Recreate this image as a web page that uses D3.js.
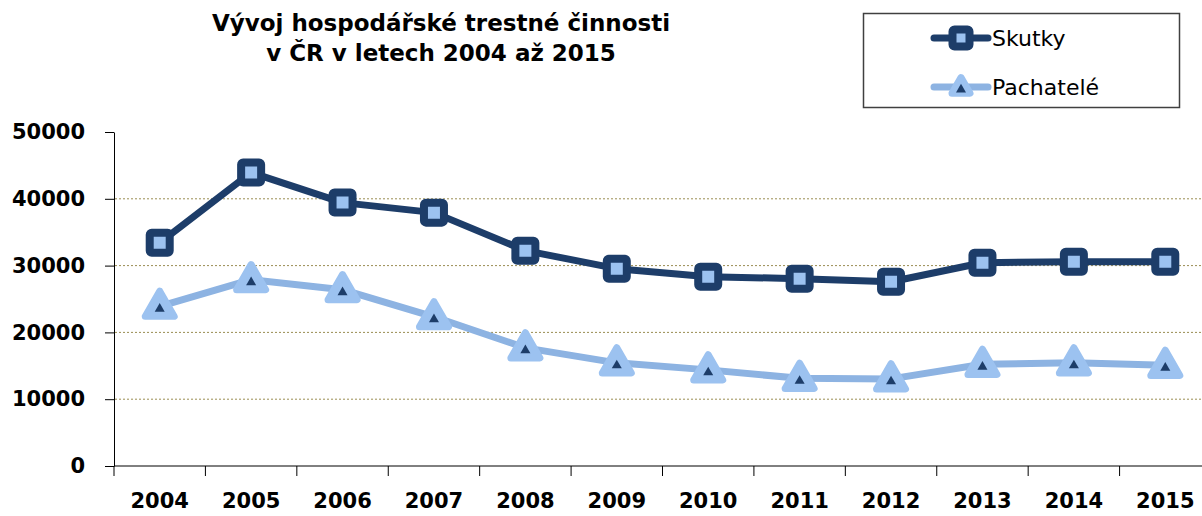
<!DOCTYPE html>
<html>
<head>
<meta charset="utf-8">
<script src="https://cdn.jsdelivr.net/npm/d3@7"></script>
<style>
  body { margin: 0; background: #fff; }
  text { font-family: "DejaVu Sans", sans-serif; }
</style>
</head>
<body>
<script>
// data
const years = ["2004", "2005", "2006", "2007", "2008", "2009", "2010", "2011", "2012", "2013", "2014", "2015"];
const skutky = [33430, 43930, 39430, 37930, 32240, 29540, 28340, 28040, 27590, 30430, 30580, 30580];
const pachatele = [23910, 27890, 26390, 22340, 17690, 15440, 14390, 13120, 13040, 15220, 15440, 15070];
const yTicks = [0, 10000, 20000, 30000, 40000, 50000];
const titleLines = ["Vývoj hospodářské trestné činnosti", "v ČR v letech 2004 až 2015"];
const seriesNames = ["Skutky", "Pachatelé"];

const width = 1202, height = 516;
const dark = "#1d3d69", light = "#8db3e2", markLight = "#9cc2f0";

const svg = d3.select("body").append("svg")
  .attr("width", width)
  .attr("height", height);

const x = d3.scaleBand().domain(years).range([114, 1211]);
const y = d3.scaleLinear().domain([0, 50000]).range([466, 132]);

// gridlines
svg.append("g")
  .selectAll("line")
  .data(yTicks.filter(d => d > 0 && d < 50000))
  .join("line")
  .attr("x1", 115).attr("x2", width)
  .attr("y1", d => y(d)).attr("y2", d => y(d))
  .attr("stroke", "#9a8d52")
  .attr("stroke-width", 1)
  .attr("stroke-dasharray", "2,2");

// y axis
const yAxis = svg.append("g")
  .attr("transform", "translate(114,0)")
  .call(d3.axisLeft(y).tickValues(yTicks).tickSize(9).tickSizeOuter(0).tickPadding(20).tickFormat(d3.format("d")));
yAxis.selectAll("text").attr("font-size", 21).attr("font-weight", "bold").attr("fill", "#000")
  .style("font-family", "DejaVu Sans");
yAxis.selectAll("line, path").attr("stroke", "#000");

// x axis: labels centred, ticks between categories
const xAxis = svg.append("g")
  .attr("transform", "translate(0,466)")
  .call(d3.axisBottom(x).tickSize(0).tickPadding(27));
xAxis.select(".domain").remove();
xAxis.selectAll("text").attr("font-size", 21).attr("font-weight", "bold").attr("fill", "#000")
  .style("font-family", "DejaVu Sans");
svg.append("line")
  .attr("x1", 114).attr("x2", width)
  .attr("y1", 466).attr("y2", 466)
  .attr("stroke", "#000");
svg.append("g")
  .selectAll("line")
  .data(years)
  .join("line")
  .attr("x1", d => x(d)).attr("x2", d => x(d))
  .attr("y1", 466).attr("y2", 476)
  .attr("stroke", "#000");

const line = d3.line()
  .x((d, i) => x(years[i]) + x.bandwidth() / 2)
  .y(d => y(d));

function triPath(cx, cy, s) {
  const h = s * 0.87;
  return "M" + cx + "," + (cy - h * 0.6) + "L" + (cx + s / 2) + "," + (cy + h * 0.4) + "L" + (cx - s / 2) + "," + (cy + h * 0.4) + "Z";
}

function drawSquare(g, cx, cy, size) {
  g.append("rect")
    .attr("x", cx - size / 2).attr("y", cy - size / 2)
    .attr("width", size).attr("height", size)
    .attr("rx", 2)
    .attr("fill", markLight)
    .attr("stroke", dark)
    .attr("stroke-width", 8)
    .attr("stroke-linejoin", "round");
}

function drawTriangle(g, cx, cy, s) {
  g.append("path")
    .attr("d", triPath(cx, cy, s))
    .attr("fill", markLight)
    .attr("stroke", markLight)
    .attr("stroke-width", 7)
    .attr("stroke-linejoin", "round");
  g.append("path")
    .attr("d", triPath(cx, cy + 2, 10))
    .attr("fill", dark);
}

// Pachatelé
svg.append("path")
  .datum(pachatele)
  .attr("d", line)
  .attr("fill", "none")
  .attr("stroke", light)
  .attr("stroke-width", 7)
  .attr("stroke-linejoin", "round");
const gTri = svg.append("g");
pachatele.forEach((v, i) => drawTriangle(gTri, x(years[i]) + x.bandwidth() / 2, y(v), 29));

// Skutky
svg.append("path")
  .datum(skutky)
  .attr("d", line)
  .attr("fill", "none")
  .attr("stroke", dark)
  .attr("stroke-width", 7)
  .attr("stroke-linejoin", "round");
const gSq = svg.append("g");
skutky.forEach((v, i) => drawSquare(gSq, x(years[i]) + x.bandwidth() / 2, y(v), 20));

// title
svg.append("g")
  .selectAll("text")
  .data(titleLines)
  .join("text")
  .attr("x", 441)
  .attr("y", (d, i) => 31 + i * 30)
  .attr("text-anchor", "middle")
  .attr("font-size", 23)
  .attr("font-weight", "bold")
  .text(d => d);

// legend
const leg = svg.append("g");
leg.append("rect")
  .attr("x", 863.5).attr("y", 13.5)
  .attr("width", 316).attr("height", 94)
  .attr("fill", "#fff")
  .attr("stroke", "#404040")
  .attr("stroke-width", 1.5);
leg.append("line")
  .attr("x1", 934).attr("x2", 988).attr("y1", 38).attr("y2", 38)
  .attr("stroke", dark).attr("stroke-width", 7).attr("stroke-linecap", "round");
drawSquare(leg, 961, 38, 17);
leg.append("line")
  .attr("x1", 934).attr("x2", 988).attr("y1", 87).attr("y2", 87)
  .attr("stroke", light).attr("stroke-width", 7).attr("stroke-linecap", "round");
drawTriangle(leg, 961, 87, 18);
leg.selectAll("text.lbl")
  .data(seriesNames)
  .join("text")
  .attr("class", "lbl")
  .attr("x", 992)
  .attr("y", (d, i) => 38 + i * 49)
  .attr("dy", "0.36em")
  .attr("font-size", 22)
  .text(d => d);
</script>
</body>
</html>
